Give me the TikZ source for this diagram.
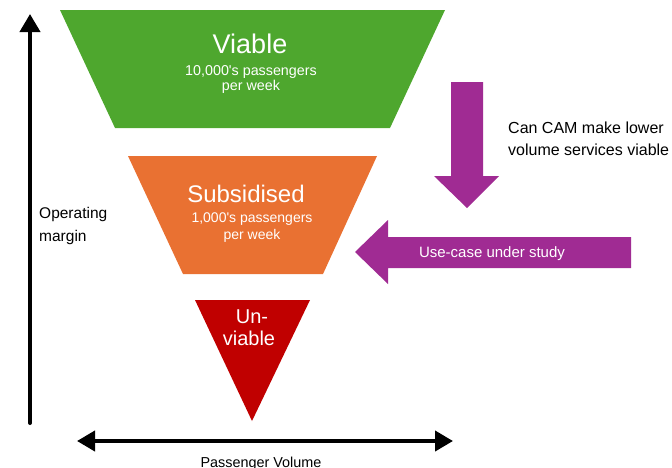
\documentclass[tikz,border=0pt]{standalone}
\usepackage{fontspec}
\setmainfont{Liberation Sans}
\usetikzlibrary{arrows.meta}
\definecolor{viablegreen}{HTML}{4EA72E}
\definecolor{subsorange}{HTML}{E97132}
\definecolor{unviablered}{HTML}{C00000}
\definecolor{campurple}{HTML}{A02B93}
\newcommand{\fs}[1]{\fontsize{#1}{#1}\selectfont}
\begin{document}
\begin{tikzpicture}[x=1pt,y=-1pt,
  label/.style={inner sep=0pt,anchor=base},
  onband/.style={label,text=white},
  axis/.style={line width=4pt,line cap=round,-{Triangle[length=18pt,width=20pt]}},
  axisboth/.style={line width=4pt,{Triangle[length=18pt,width=20pt]}-{Triangle[length=18pt,width=20pt]}},
  blockarrow/.style={fill=campurple,draw=none}]
\useasboundingbox (0,0) rectangle (672,467);

% funnel bands
\fill[viablegreen] (60,10) -- (445,10) -- (390,128) -- (115,128) -- cycle;
\fill[subsorange] (128,156) -- (377,156) -- (323,274) -- (183,274) -- cycle;
\fill[unviablered] (195,300) -- (310,300) -- (252,421) -- cycle;

% band texts
\node[onband] (viable) at (250,53) {\fs{27}Viable};
\node[onband] (viable1) at (251,75) {\fs{14.3}10,000\textquotesingle s passengers};
\node[onband] (viable2) at (251,90) {\fs{14.3}per week};
\node[onband] (subs) at (246,202) {\fs{24}Subsidised};
\node[onband] (subs1) at (252,222) {\fs{14}1,000\textquotesingle s passengers};
\node[onband] (subs2) at (252,239) {\fs{14}per week};
\node[onband] (unv1) at (252,323) {\fs{20}Un-};
\node[onband] (unv2) at (249,345) {\fs{20}viable};

% axes
\coordinate (ybot) at (30,423);
\coordinate (ytop) at (30,14);
\draw[axis] (ybot) -- (ytop);
\coordinate (xleft) at (77,441);
\coordinate (xright) at (453,441);
\draw[axisboth] (xleft) -- (xright);
\node[label,anchor=base west] (op1) at (39,218) {\fs{15.5}Operating};
\node[label,anchor=base west] (op2) at (39,241) {\fs{15.5}margin};
\node[label] (pv) at (261,467) {\fs{14.4}Passenger Volume};

% block arrows
\fill[blockarrow] (451,82) -- (483,82) -- (483,176) -- (499,176) -- (467,208)
  -- (434,176) -- (451,176) -- cycle;
\fill[blockarrow] (631,237) -- (631,268) -- (388,268) -- (388,284) -- (355,252)
  -- (388,220) -- (388,237) -- cycle;
\node[onband] (study) at (492,257) {\fs{15}Use-case under study};
\node[label,anchor=base west] (cam1) at (508,133) {\fs{16}Can CAM make lower};
\node[label,anchor=base west] (cam2) at (508,155) {\fs{16}volume services viable};
\end{tikzpicture}
\end{document}
